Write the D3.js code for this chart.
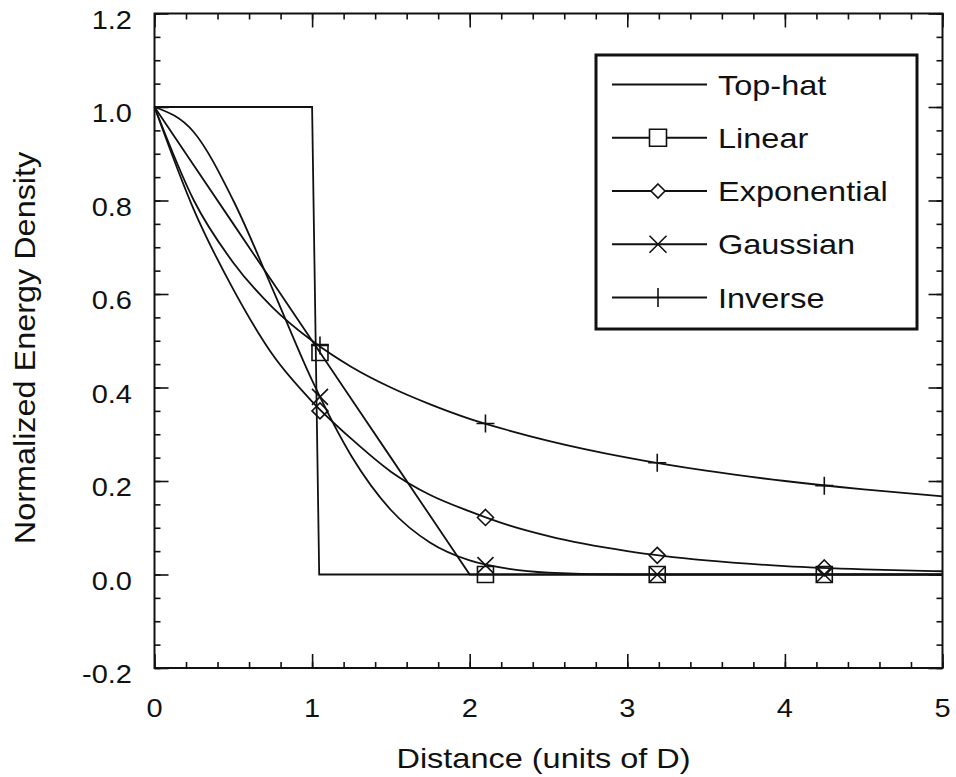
<!DOCTYPE html>
<html>
<head>
<meta charset="utf-8">
<script src="https://cdn.jsdelivr.net/npm/d3@7"></script>
<style>
  body { margin: 0; background: #fff; }
  text { font-family: "Liberation Sans", Arial, Helvetica, sans-serif; fill: #111; }
</style>
</head>
<body>
<svg id="chart" width="956" height="777"></svg>
<script>
// values
const xGrid = [0, 0.25, 0.5, 0.75, 1, 1.25, 1.5, 1.75, 2, 2.25, 2.5, 3, 3.5, 4, 4.5, 5];
const linearVals = [1, 0.875, 0.75, 0.625, 0.5, 0.375, 0.25, 0.125, 0, 0, 0, 0, 0, 0, 0, 0];
const exponentialVals = [1, 0.78, 0.61, 0.47, 0.37, 0.29, 0.22, 0.17, 0.135, 0.105, 0.082, 0.05, 0.03, 0.018, 0.011, 0.007];
const gaussianVals = [1, 0.946, 0.80, 0.61, 0.415, 0.253, 0.138, 0.068, 0.03, 0.012, 0.004, 0, 0, 0, 0, 0];
const inverseVals = [1, 0.8, 0.667, 0.571, 0.5, 0.444, 0.4, 0.364, 0.333, 0.308, 0.286, 0.25, 0.222, 0.2, 0.182, 0.167];

const topHatX = [0, 1, 1.045, 5];
const topHatVals = [1, 1, 0, 0];

const markerX = [1.05, 2.1, 3.19, 4.25];
const linearMarks = [0.475, 0, 0, 0];
const exponentialMarks = [0.35, 0.122, 0.041, 0.014];
const gaussianMarks = [0.38, 0.02, 0, 0];
const inverseMarks = [0.49, 0.323, 0.239, 0.19];

const seriesNames = ["Top-hat", "Linear", "Exponential", "Gaussian", "Inverse"];
const seriesSymbols = ["none", "square", "diamond", "cross", "plus"];

const xTicks = [0, 1, 2, 3, 4, 5];
const xTickLabels = ["0", "1", "2", "3", "4", "5"];
const yTicks = [-0.2, 0, 0.2, 0.4, 0.6, 0.8, 1.0, 1.2];
const yTickLabels = ["-0.2", "0.0", "0.2", "0.4", "0.6", "0.8", "1.0", "1.2"];

const svg = d3.select("#chart");
const plotLeft = 154.5, plotRight = 942.5, plotTop = 13.5, plotBottom = 668;
const ink = "#111";
const stretch = 1.16; // the scanned lettering is wide

const x = d3.scaleLinear().domain([0, 5]).range([plotLeft, plotRight]);
const y = d3.scaleLinear().domain([-0.2, 1.2]).range([plotBottom, plotTop]);

// ticks, all pointing inward
const minorX = d3.range(0, 5.001, 0.2);
const minorY = d3.range(-0.2, 1.2001, 0.05);
function tickAxis(axis, scale, values, size, transform) {
  svg.append("g")
    .attr("transform", transform)
    .call(axis(scale).tickValues(values).tickSize(-size).tickFormat(""))
    .call(g => g.select(".domain").remove())
    .call(g => g.selectAll("line").attr("stroke", ink).attr("stroke-width", 1.6));
}
tickAxis(d3.axisBottom, x, minorX, 6, `translate(0,${plotBottom})`);
tickAxis(d3.axisBottom, x, xTicks, 14, `translate(0,${plotBottom})`);
tickAxis(d3.axisTop, x, minorX, 6, `translate(0,${plotTop})`);
tickAxis(d3.axisTop, x, xTicks, 14, `translate(0,${plotTop})`);
tickAxis(d3.axisLeft, y, minorY, 6, `translate(${plotLeft},0)`);
tickAxis(d3.axisLeft, y, yTicks, 14, `translate(${plotLeft},0)`);
tickAxis(d3.axisRight, y, minorY, 6, `translate(${plotRight},0)`);
tickAxis(d3.axisRight, y, yTicks, 14, `translate(${plotRight},0)`);

svg.append("rect")
  .attr("x", plotLeft).attr("y", plotTop)
  .attr("width", plotRight - plotLeft).attr("height", plotBottom - plotTop)
  .attr("fill", "none").attr("stroke", ink).attr("stroke-width", 2);

// tick labels
svg.append("g").selectAll("text")
  .data(xTicks)
  .join("text")
  .attr("transform", d => `translate(${x(d)},717) scale(${stretch},1)`)
  .attr("text-anchor", "middle")
  .style("font-size", "25px")
  .text((d, i) => xTickLabels[i]);

svg.append("g").selectAll("text")
  .data(yTicks)
  .join("text")
  .attr("transform", d => `translate(132,${y(d) + 15}) scale(${stretch},1)`)
  .attr("text-anchor", "end")
  .style("font-size", "25px")
  .text((d, i) => yTickLabels[i]);

// axis titles
svg.append("text")
  .attr("transform", `translate(${(plotLeft + plotRight) / 2 - 5},768) scale(${stretch},1)`)
  .attr("text-anchor", "middle")
  .style("font-size", "28px")
  .text("Distance (units of D)");

svg.append("text")
  .attr("transform", "translate(35,348) rotate(-90) scale(1.08,1)")
  .attr("text-anchor", "middle")
  .style("font-size", "30px")
  .text("Normalized Energy Density");

// curves
const smooth = d3.line().x(d => x(d[0])).y(d => y(d[1])).curve(d3.curveMonotoneX);
const straight = d3.line().x(d => x(d[0])).y(d => y(d[1]));
const pairs = (xs, ys) => xs.map((v, i) => [v, ys[i]]);

const plot = svg.append("g")
  .attr("fill", "none").attr("stroke", ink).attr("stroke-width", 1.8);

plot.append("path").attr("d", straight(pairs(topHatX, topHatVals)));
plot.append("path").attr("d", straight(pairs(xGrid, linearVals)));
plot.append("path").attr("d", smooth(pairs(xGrid, exponentialVals)));
plot.append("path").attr("d", smooth(pairs(xGrid, gaussianVals)));
plot.append("path").attr("d", smooth(pairs(xGrid, inverseVals)));

// marker shapes, centred on 0,0
function symbolPath(kind, s) {
  const h = s / 2;
  if (kind === "square") return `M${-h},${-h}H${h}V${h}H${-h}Z`;
  if (kind === "diamond") return `M0,${-h}L${h},0L0,${h}L${-h},0Z`;
  if (kind === "cross") return `M${-h},${-h}L${h},${h}M${h},${-h}L${-h},${h}`;
  if (kind === "plus") return `M${-h},0H${h}M0,${-h}V${h}`;
  return "";
}

const markSets = [
  { kind: "square", vals: linearMarks, size: 16 },
  { kind: "diamond", vals: exponentialMarks, size: 16 },
  { kind: "cross", vals: gaussianMarks, size: 16 },
  { kind: "plus", vals: inverseMarks, size: 18 }
];
markSets.forEach(m => {
  plot.append("g").selectAll("path")
    .data(pairs(markerX, m.vals))
    .join("path")
    .attr("transform", d => `translate(${x(d[0])},${y(d[1])})`)
    .attr("d", symbolPath(m.kind, m.size))
    .attr("stroke-width", 1.6);
});

// legend
const legend = svg.append("g");
legend.append("rect")
  .attr("x", 596).attr("y", 55)
  .attr("width", 321).attr("height", 274)
  .attr("fill", "#fff").attr("stroke", ink).attr("stroke-width", 3);

const rowY = d3.scalePoint().domain(seriesNames).range([84.5, 297.5]);
const legendSize = { square: 17, diamond: 14, cross: 17, plus: 19 };
seriesNames.forEach((name, i) => {
  const yy = rowY(name);
  legend.append("line")
    .attr("x1", 612).attr("x2", 707).attr("y1", yy).attr("y2", yy)
    .attr("stroke", ink).attr("stroke-width", 1.8);
  const kind = seriesSymbols[i];
  if (kind !== "none") {
    legend.append("path")
      .attr("transform", `translate(658,${yy})`)
      .attr("d", kind === "plus"
        ? `M0,${-legendSize.plus / 2}V${legendSize.plus / 2}`
        : symbolPath(kind, legendSize[kind]))
      .attr("fill", kind === "cross" ? "none" : "#fff")
      .attr("stroke", ink).attr("stroke-width", 1.6);
  }
  legend.append("text")
    .attr("transform", `translate(718,${yy + 10}) scale(${stretch},1)`)
    .style("font-size", "28px")
    .text(name);
});
</script>
</body>
</html>
